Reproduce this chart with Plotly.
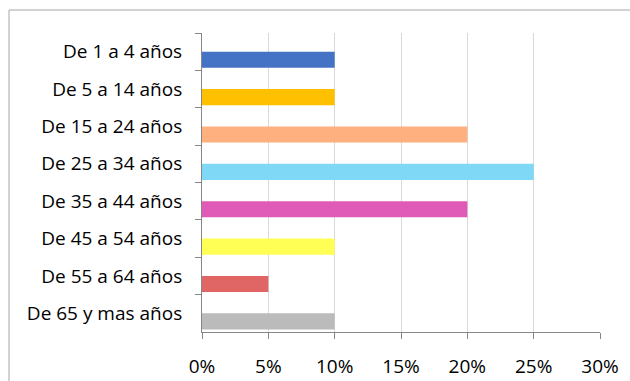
import plotly.graph_objects as go

# Age groups, top to bottom, and their share of the total
age_groups = [
    "De 1 a 4 años",
    "De 5 a 14 años",
    "De 15 a 24 años",
    "De 25 a 34 años",
    "De 35 a 44 años",
    "De 45 a 54 años",
    "De 55 a 64 años",
    "De 65 y mas años",
]
shares = [0.10, 0.10, 0.20, 0.25, 0.20, 0.10, 0.05, 0.10]
bar_colors = [
    "#4472C4", "#FFC000", "#FFB07F", "#7FD8F6",
    "#E05BB7", "#FFFF55", "#E06666", "#BBBBBB",
]
x_ticks = [0, 0.05, 0.10, 0.15, 0.20, 0.25, 0.30]
x_tick_labels = ["0%", "5%", "10%", "15%", "20%", "25%", "30%"]

W, H = 630, 381
L, R, T, B = 202, 30, 33, 49
plot_w = W - L - R
plot_h = H - T - B

font = dict(family="Open Sans, Calibri, sans-serif", size=19, color="#000000")

fig = go.Figure(
    go.Bar(
        x=shares,
        y=age_groups,
        orientation="h",
        marker=dict(color=bar_colors, line=dict(width=0)),
        width=0.43,
        offset=0.0,
        hoverinfo="skip",
    )
)

axis_grey = "#868686"

fig.update_layout(
    width=W,
    height=H,
    margin=dict(l=L, r=R, t=T, b=B),
    paper_bgcolor="white",
    plot_bgcolor="white",
    font=font,
    showlegend=False,
    xaxis=dict(
        range=[0, 0.30],
        tickvals=x_ticks,
        ticktext=x_tick_labels,
        showgrid=True,
        gridcolor="#D9D9D9",
        gridwidth=1,
        zeroline=False,
        showline=True,
        linecolor=axis_grey,
        linewidth=1,
        ticks="outside",
        ticklen=6,
        tickcolor=axis_grey,
        tickfont=font,
        ticklabelstandoff=11,
        automargin=False,
        fixedrange=True,
    ),
    yaxis=dict(
        type="category",
        autorange="reversed",
        tickson="boundaries",
        ticks="outside",
        ticklen=6,
        tickcolor=axis_grey,
        showline=True,
        linecolor=axis_grey,
        linewidth=1,
        showgrid=False,
        tickfont=font,
        ticklabelstandoff=15,
        automargin=False,
        fixedrange=True,
    ),
)

# Outer chart frame (extends past the right and bottom edges of the page)
fig.add_shape(
    type="rect",
    xref="paper",
    yref="paper",
    x0=(9 - L) / plot_w,
    x1=(W + 5 - L) / plot_w,
    y0=-(H + 5 - (T + plot_h)) / plot_h,
    y1=1 + (T - 10) / plot_h,
    line=dict(color="#A6A6A6", width=1),
    fillcolor="rgba(0,0,0,0)",
    layer="below",
)

fig.write_html("out.html", config={"displayModeBar": False})
